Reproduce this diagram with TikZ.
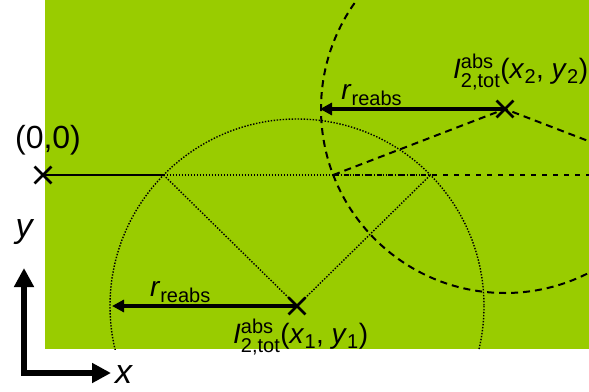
\documentclass[tikz,border=0pt]{standalone}
\usepackage{amsmath}
\usepackage{fontspec}
\setmainfont{Liberation Sans}
\usetikzlibrary{arrows.meta,positioning,shapes.misc}
\DeclareMathSizes{28}{28}{20}{15}
\definecolor{fieldgreen}{RGB}{153,204,0}

\begin{document}
\begin{tikzpicture}[
  x=1pt, y=-1pt,
  font=\fontsize{28}{33}\selectfont,
  xmark/.style={cross out, draw, line width=2.8pt, minimum size=14pt, inner sep=0pt},
  rarrow/.style={-{Triangle[length=12pt, width=12pt]}, line width=3.5pt},
  axis/.style={{Triangle[length=19pt, width=19pt]}-{Triangle[length=19pt, width=19pt]}, line width=6.5pt, line join=miter},
  ring1/.style={line width=1.4pt, dash pattern=on 1.4pt off 1.6pt},
  ring2/.style={line width=2pt, dash pattern=on 7pt off 5pt},
  line2/.style={line width=1.8pt, dash pattern=on 5pt off 6pt}
]
\useasboundingbox (0,0) rectangle (589,391);

% Field
\fill[fieldgreen] (45,0) rectangle (589,349);

% Sources
\node[xmark] (origin) at (43,175) {};
\node[xmark] (src1) at (297,306) {};
\node[xmark] (src2) at (505,109) {};

% Crossings of the circles with the line through the origin
\coordinate (a1) at (163.6,175);
\coordinate (b1) at (430.4,175);
\coordinate (a2) at (333.2,175);
\coordinate (b2) at (676.8,175);
\coordinate (tip1) at (112,306);
\coordinate (tip2) at (320,109);

\begin{scope}
\clip (45,0) rectangle (589,349);
\draw[ring1] (src1.center) circle [radius=187];
\draw[ring2] (src2.center) circle [radius=184];
\draw[ring1] (a1) -- (src1.center) -- (b1);
\draw[ring2] (a2) -- (src2.center) -- (b2);
\draw[ring1] (a1) -- (b1);
\draw[line2] (a2) -- (b2);
\end{scope}
\draw[line width=2pt] (origin.center) -- (a1);

% Reabsorption radii
\draw[rarrow] (src1.center) -- (tip1)
  node[pos=0.63, above, inner sep=2pt] (rlab1) {\textit{r}$_{\text{reabs}}$};
\draw[rarrow] (src2.center) -- (tip2)
  node[pos=0.72, above, inner sep=2pt] (rlab2) {\textit{r}$_{\text{reabs}}$};

% Labels
\node[font=\fontsize{32}{36}\selectfont] (zero) at (48,140) {(0,0)};
\node[anchor=base west, inner sep=0pt] (lab1) at (233,343)
  {\textit{I}$^{\text{abs}}_{\text{2,tot}}$(\textit{x}$_{\text{1}}$, \textit{y}$_{\text{1}}$)};
\node[anchor=base west, inner sep=0pt] (lab2) at (453,78)
  {\textit{I}$^{\text{abs}}_{\text{2,tot}}$(\textit{x}$_{\text{2}}$, \textit{y}$_{\text{2}}$)};

% Axes
\coordinate (corner) at (24,373);
\coordinate (ytip) at (24,268);
\coordinate (xtip) at (111,373);
\draw[axis] (ytip) -- (corner) -- (xtip);
\node[font=\fontsize{34}{38}\selectfont, inner sep=0pt] (ylab) at (25,232) {\textit{y}};
\node[font=\fontsize{34}{38}\selectfont, inner sep=0pt] (xlab) at (124,375) {\textit{x}};
\end{tikzpicture}
\end{document}
